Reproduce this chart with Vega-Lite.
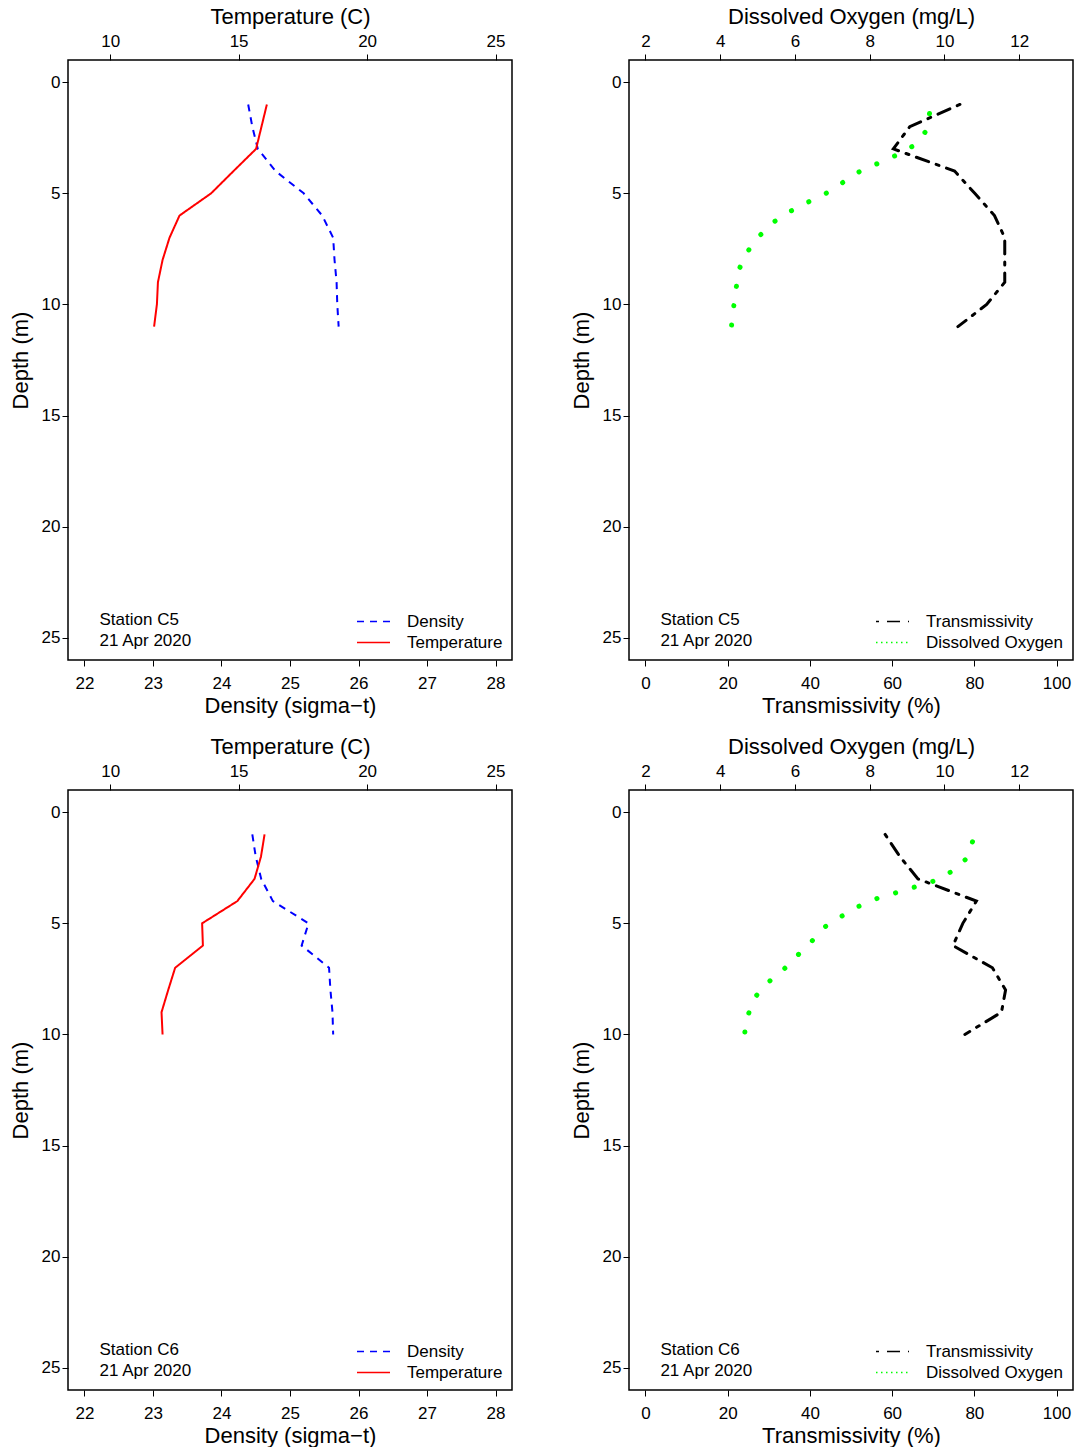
{
  "$schema": "https://vega.github.io/schema/vega-lite/v6.json",
  "padding": {"left": 8, "top": 4, "right": 0, "bottom": 0},
  "background": "white",
  "config": {
    "font": "Liberation Sans",
    "view": {"stroke": "black", "strokeWidth": 1.5},
    "axis": {"labelFont": "Liberation Sans", "titleFont": "Liberation Sans", "labelFontSize": 17, "titleFontSize": 22, "titleFontWeight": "normal", "labelColor": "black", "titleColor": "black", "tickColor": "black", "tickSize": 6, "tickWidth": 1, "domain": false, "grid": false, "labelPadding": 4, "titlePadding": 4},
    "axisBottom": {"labelPadding": 9},
    "legend": {"symbolType": "M-3,0H3", "symbolSize": 121, "symbolStrokeWidth": 1.5, "labelFont": "Liberation Sans", "labelFontSize": 17, "labelColor": "black", "labelOffset": 25, "rowPadding": 3, "offset": 9, "padding": 0, "orient": "bottom-right", "labelLimit": 300}
  },
  "datasets": {
    "prof": [
      {"st": "C5", "var": "Temperature", "depth": 1, "value": 16.10},
      {"st": "C5", "var": "Temperature", "depth": 2, "value": 15.89},
      {"st": "C5", "var": "Temperature", "depth": 3, "value": 15.68},
      {"st": "C5", "var": "Temperature", "depth": 4, "value": 14.80},
      {"st": "C5", "var": "Temperature", "depth": 5, "value": 13.93},
      {"st": "C5", "var": "Temperature", "depth": 6, "value": 12.70},
      {"st": "C5", "var": "Temperature", "depth": 7, "value": 12.31},
      {"st": "C5", "var": "Temperature", "depth": 8, "value": 12.04},
      {"st": "C5", "var": "Temperature", "depth": 9, "value": 11.86},
      {"st": "C5", "var": "Temperature", "depth": 10, "value": 11.82},
      {"st": "C5", "var": "Temperature", "depth": 11, "value": 11.71},
      {"st": "C5", "var": "Density", "depth": 1, "value": 24.39},
      {"st": "C5", "var": "Density", "depth": 2, "value": 24.45},
      {"st": "C5", "var": "Density", "depth": 3, "value": 24.53},
      {"st": "C5", "var": "Density", "depth": 4, "value": 24.79},
      {"st": "C5", "var": "Density", "depth": 5, "value": 25.20},
      {"st": "C5", "var": "Density", "depth": 6, "value": 25.47},
      {"st": "C5", "var": "Density", "depth": 7, "value": 25.63},
      {"st": "C5", "var": "Density", "depth": 8, "value": 25.65},
      {"st": "C5", "var": "Density", "depth": 9, "value": 25.68},
      {"st": "C5", "var": "Density", "depth": 10, "value": 25.69},
      {"st": "C5", "var": "Density", "depth": 11, "value": 25.71},
      {"st": "C5", "var": "Transmissivity", "depth": 1, "value": 76.5},
      {"st": "C5", "var": "Transmissivity", "depth": 2, "value": 64.3},
      {"st": "C5", "var": "Transmissivity", "depth": 3, "value": 60.3},
      {"st": "C5", "var": "Transmissivity", "depth": 4, "value": 75.2},
      {"st": "C5", "var": "Transmissivity", "depth": 5, "value": 80.1},
      {"st": "C5", "var": "Transmissivity", "depth": 6, "value": 84.9},
      {"st": "C5", "var": "Transmissivity", "depth": 7, "value": 87.4},
      {"st": "C5", "var": "Transmissivity", "depth": 8, "value": 87.4},
      {"st": "C5", "var": "Transmissivity", "depth": 9, "value": 87.4},
      {"st": "C5", "var": "Transmissivity", "depth": 10, "value": 83.0},
      {"st": "C5", "var": "Transmissivity", "depth": 11, "value": 76.0},
      {"st": "C5", "var": "Dissolved Oxygen", "depth": 1.41, "value": 9.60},
      {"st": "C5", "var": "Dissolved Oxygen", "depth": 2.22, "value": 9.50},
      {"st": "C5", "var": "Dissolved Oxygen", "depth": 2.88, "value": 9.15},
      {"st": "C5", "var": "Dissolved Oxygen", "depth": 3.30, "value": 8.69},
      {"st": "C5", "var": "Dissolved Oxygen", "depth": 3.66, "value": 8.21},
      {"st": "C5", "var": "Dissolved Oxygen", "depth": 4.02, "value": 7.73},
      {"st": "C5", "var": "Dissolved Oxygen", "depth": 4.50, "value": 7.29},
      {"st": "C5", "var": "Dissolved Oxygen", "depth": 4.99, "value": 6.84},
      {"st": "C5", "var": "Dissolved Oxygen", "depth": 5.38, "value": 6.37},
      {"st": "C5", "var": "Dissolved Oxygen", "depth": 5.79, "value": 5.90},
      {"st": "C5", "var": "Dissolved Oxygen", "depth": 6.27, "value": 5.45},
      {"st": "C5", "var": "Dissolved Oxygen", "depth": 6.88, "value": 5.07},
      {"st": "C5", "var": "Dissolved Oxygen", "depth": 7.58, "value": 4.75},
      {"st": "C5", "var": "Dissolved Oxygen", "depth": 8.36, "value": 4.52},
      {"st": "C5", "var": "Dissolved Oxygen", "depth": 9.23, "value": 4.43},
      {"st": "C5", "var": "Dissolved Oxygen", "depth": 10.12, "value": 4.36},
      {"st": "C5", "var": "Dissolved Oxygen", "depth": 11.0, "value": 4.30},
      {"st": "C6", "var": "Temperature", "depth": 1, "value": 16.01},
      {"st": "C6", "var": "Temperature", "depth": 2, "value": 15.87},
      {"st": "C6", "var": "Temperature", "depth": 3, "value": 15.62},
      {"st": "C6", "var": "Temperature", "depth": 4, "value": 14.95},
      {"st": "C6", "var": "Temperature", "depth": 5, "value": 13.58},
      {"st": "C6", "var": "Temperature", "depth": 6, "value": 13.61},
      {"st": "C6", "var": "Temperature", "depth": 7, "value": 12.53},
      {"st": "C6", "var": "Temperature", "depth": 8, "value": 12.26},
      {"st": "C6", "var": "Temperature", "depth": 9, "value": 12.00},
      {"st": "C6", "var": "Temperature", "depth": 10, "value": 12.04},
      {"st": "C6", "var": "Density", "depth": 1, "value": 24.45},
      {"st": "C6", "var": "Density", "depth": 2, "value": 24.50},
      {"st": "C6", "var": "Density", "depth": 3, "value": 24.58},
      {"st": "C6", "var": "Density", "depth": 4, "value": 24.75},
      {"st": "C6", "var": "Density", "depth": 5, "value": 25.27},
      {"st": "C6", "var": "Density", "depth": 6, "value": 25.17},
      {"st": "C6", "var": "Density", "depth": 7, "value": 25.57},
      {"st": "C6", "var": "Density", "depth": 8, "value": 25.59},
      {"st": "C6", "var": "Density", "depth": 9, "value": 25.62},
      {"st": "C6", "var": "Density", "depth": 10, "value": 25.63},
      {"st": "C6", "var": "Transmissivity", "depth": 1, "value": 58.3},
      {"st": "C6", "var": "Transmissivity", "depth": 2, "value": 61.9},
      {"st": "C6", "var": "Transmissivity", "depth": 3, "value": 66.3},
      {"st": "C6", "var": "Transmissivity", "depth": 4, "value": 80.5},
      {"st": "C6", "var": "Transmissivity", "depth": 5, "value": 77.2},
      {"st": "C6", "var": "Transmissivity", "depth": 6, "value": 74.8},
      {"st": "C6", "var": "Transmissivity", "depth": 7, "value": 84.4},
      {"st": "C6", "var": "Transmissivity", "depth": 8, "value": 87.6},
      {"st": "C6", "var": "Transmissivity", "depth": 9, "value": 86.6},
      {"st": "C6", "var": "Transmissivity", "depth": 10, "value": 77.7},
      {"st": "C6", "var": "Dissolved Oxygen", "depth": 1.33, "value": 10.75},
      {"st": "C6", "var": "Dissolved Oxygen", "depth": 2.13, "value": 10.56},
      {"st": "C6", "var": "Dissolved Oxygen", "depth": 2.70, "value": 10.16},
      {"st": "C6", "var": "Dissolved Oxygen", "depth": 3.10, "value": 9.71},
      {"st": "C6", "var": "Dissolved Oxygen", "depth": 3.37, "value": 9.20},
      {"st": "C6", "var": "Dissolved Oxygen", "depth": 3.63, "value": 8.69},
      {"st": "C6", "var": "Dissolved Oxygen", "depth": 3.88, "value": 8.20},
      {"st": "C6", "var": "Dissolved Oxygen", "depth": 4.24, "value": 7.70},
      {"st": "C6", "var": "Dissolved Oxygen", "depth": 4.68, "value": 7.25},
      {"st": "C6", "var": "Dissolved Oxygen", "depth": 5.16, "value": 6.80},
      {"st": "C6", "var": "Dissolved Oxygen", "depth": 5.81, "value": 6.45},
      {"st": "C6", "var": "Dissolved Oxygen", "depth": 6.44, "value": 6.07},
      {"st": "C6", "var": "Dissolved Oxygen", "depth": 7.07, "value": 5.70},
      {"st": "C6", "var": "Dissolved Oxygen", "depth": 7.63, "value": 5.30},
      {"st": "C6", "var": "Dissolved Oxygen", "depth": 8.29, "value": 4.95},
      {"st": "C6", "var": "Dissolved Oxygen", "depth": 9.10, "value": 4.75},
      {"st": "C6", "var": "Dissolved Oxygen", "depth": 9.98, "value": 4.65}
    ]
  },
  "columns": 2,
  "spacing": {"row": 17, "column": 56},
  "resolve": {"scale": {"color": "independent", "strokeDash": "independent", "x": "independent", "y": "independent"}, "legend": {"color": "independent", "strokeDash": "independent"}},
  "concat": [
    {
      "width": 444, "height": 600,
      "data": {"name": "prof"},
      "layer": [
        {
          "layer": [
            {
              "transform": [{"filter": "datum.st == 'C5' && datum.var == 'Density'"}],
              "mark": {"type": "line", "strokeWidth": 2, "strokeCap": "butt"},
              "encoding": {
                "x": {"field": "value", "type": "quantitative", "scale": {"domain": [21.76, 28.24], "nice": false, "zero": false}, "axis": {"orient": "bottom", "title": "Density (sigma−t)", "values": [22, 23, 24, 25, 26, 27, 28], "format": "d"}},
                "y": {"field": "depth", "type": "quantitative", "scale": {"domain": [-1, 26], "reverse": true, "nice": false, "zero": false}, "axis": {"title": "Depth (m)", "values": [0, 5, 10, 15, 20, 25], "labelPadding": 2, "titlePadding": 9}},
                "order": {"field": "depth", "type": "quantitative"},
                "color": {"field": "var", "type": "nominal", "scale": {"domain": ["Density", "Temperature"], "range": ["#0000ff", "#ff0000"]}, "legend": {"title": null}},
                "strokeDash": {"field": "var", "type": "nominal", "scale": {"domain": ["Density", "Temperature"], "range": [[7, 6], [1, 0]]}, "legend": {"title": null}}
              }
            },
            {
              "data": {"values": [{"label": ["Station C5", "21 Apr 2020"]}]},
              "mark": {"type": "text", "align": "left", "baseline": "middle", "fontSize": 17, "lineHeight": 21, "color": "black"},
              "encoding": {
                "x": {"datum": 22.22},
                "y": {"datum": 24.2},
                "text": {"field": "label"}
              }
            }
          ]
        },
        {
          "transform": [{"filter": "datum.st == 'C5' && datum.var == 'Temperature'"}],
          "mark": {"type": "line", "strokeWidth": 2},
          "encoding": {
            "x": {"field": "value", "type": "quantitative", "scale": {"domain": [8.36, 25.64], "nice": false, "zero": false}, "axis": {"orient": "top", "title": "Temperature (C)", "values": [10, 15, 20, 25]}},
            "y": {"field": "depth", "type": "quantitative"},
            "order": {"field": "depth", "type": "quantitative"},
            "color": {"field": "var", "type": "nominal"},
            "strokeDash": {"field": "var", "type": "nominal"}
          }
        }
      ],
      "resolve": {"scale": {"x": "independent"}}
    },
    {
      "width": 444, "height": 600,
      "data": {"name": "prof"},
      "layer": [
        {
          "layer": [
            {
              "transform": [{"filter": "datum.st == 'C5' && datum.var == 'Transmissivity'"}],
              "mark": {"type": "line", "strokeWidth": 3, "strokeCap": "round"},
              "encoding": {
                "x": {"field": "value", "type": "quantitative", "scale": {"domain": [-4, 104], "nice": false, "zero": false}, "axis": {"orient": "bottom", "title": "Transmissivity (%)", "values": [0, 20, 40, 60, 80, 100]}},
                "y": {"field": "depth", "type": "quantitative", "scale": {"domain": [-1, 26], "reverse": true, "nice": false, "zero": false}, "axis": {"title": "Depth (m)", "values": [0, 5, 10, 15, 20, 25], "labelPadding": 2, "titlePadding": 9}},
                "order": {"field": "depth", "type": "quantitative"},
                "color": {"field": "var", "type": "nominal", "scale": {"domain": ["Transmissivity", "Dissolved Oxygen"], "range": ["#000000", "#00ff00"]}, "legend": {"title": null}},
                "strokeDash": {"field": "var", "type": "nominal", "scale": {"domain": ["Transmissivity", "Dissolved Oxygen"], "range": [[3, 8, 13, 8], [1.5, 3.5]]}, "legend": {"title": null}}
              }
            },
            {
              "data": {"values": [{"label": ["Station C5", "21 Apr 2020"]}]},
              "mark": {"type": "text", "align": "left", "baseline": "middle", "fontSize": 17, "lineHeight": 21, "color": "black"},
              "encoding": {
                "x": {"datum": 3.64},
                "y": {"datum": 24.2},
                "text": {"field": "label"}
              }
            }
          ]
        },
        {
          "transform": [{"filter": "datum.st == 'C5' && datum.var == 'Dissolved Oxygen'"}],
          "mark": {"type": "line", "strokeWidth": 5, "strokeCap": "round", "strokeDash": [0.1, 19.4]},
          "encoding": {
            "x": {"field": "value", "type": "quantitative", "scale": {"domain": [1.56, 13.44], "nice": false, "zero": false}, "axis": {"orient": "top", "title": "Dissolved Oxygen (mg/L)", "values": [2, 4, 6, 8, 10, 12]}},
            "y": {"field": "depth", "type": "quantitative"},
            "order": {"field": "depth", "type": "quantitative"},
            "color": {"field": "var", "type": "nominal"}
          }
        }
      ],
      "resolve": {"scale": {"x": "independent"}}
    },
    {
      "width": 444, "height": 600,
      "data": {"name": "prof"},
      "layer": [
        {
          "layer": [
            {
              "transform": [{"filter": "datum.st == 'C6' && datum.var == 'Density'"}],
              "mark": {"type": "line", "strokeWidth": 2, "strokeCap": "butt"},
              "encoding": {
                "x": {"field": "value", "type": "quantitative", "scale": {"domain": [21.76, 28.24], "nice": false, "zero": false}, "axis": {"orient": "bottom", "title": "Density (sigma−t)", "values": [22, 23, 24, 25, 26, 27, 28], "format": "d"}},
                "y": {"field": "depth", "type": "quantitative", "scale": {"domain": [-1, 26], "reverse": true, "nice": false, "zero": false}, "axis": {"title": "Depth (m)", "values": [0, 5, 10, 15, 20, 25], "labelPadding": 2, "titlePadding": 9}},
                "order": {"field": "depth", "type": "quantitative"},
                "color": {"field": "var", "type": "nominal", "scale": {"domain": ["Density", "Temperature"], "range": ["#0000ff", "#ff0000"]}, "legend": {"title": null}},
                "strokeDash": {"field": "var", "type": "nominal", "scale": {"domain": ["Density", "Temperature"], "range": [[7, 6], [1, 0]]}, "legend": {"title": null}}
              }
            },
            {
              "data": {"values": [{"label": ["Station C6", "21 Apr 2020"]}]},
              "mark": {"type": "text", "align": "left", "baseline": "middle", "fontSize": 17, "lineHeight": 21, "color": "black"},
              "encoding": {
                "x": {"datum": 22.22},
                "y": {"datum": 24.2},
                "text": {"field": "label"}
              }
            }
          ]
        },
        {
          "transform": [{"filter": "datum.st == 'C6' && datum.var == 'Temperature'"}],
          "mark": {"type": "line", "strokeWidth": 2},
          "encoding": {
            "x": {"field": "value", "type": "quantitative", "scale": {"domain": [8.36, 25.64], "nice": false, "zero": false}, "axis": {"orient": "top", "title": "Temperature (C)", "values": [10, 15, 20, 25]}},
            "y": {"field": "depth", "type": "quantitative"},
            "order": {"field": "depth", "type": "quantitative"},
            "color": {"field": "var", "type": "nominal"},
            "strokeDash": {"field": "var", "type": "nominal"}
          }
        }
      ],
      "resolve": {"scale": {"x": "independent"}}
    },
    {
      "width": 444, "height": 600,
      "data": {"name": "prof"},
      "layer": [
        {
          "layer": [
            {
              "transform": [{"filter": "datum.st == 'C6' && datum.var == 'Transmissivity'"}],
              "mark": {"type": "line", "strokeWidth": 3, "strokeCap": "round"},
              "encoding": {
                "x": {"field": "value", "type": "quantitative", "scale": {"domain": [-4, 104], "nice": false, "zero": false}, "axis": {"orient": "bottom", "title": "Transmissivity (%)", "values": [0, 20, 40, 60, 80, 100]}},
                "y": {"field": "depth", "type": "quantitative", "scale": {"domain": [-1, 26], "reverse": true, "nice": false, "zero": false}, "axis": {"title": "Depth (m)", "values": [0, 5, 10, 15, 20, 25], "labelPadding": 2, "titlePadding": 9}},
                "order": {"field": "depth", "type": "quantitative"},
                "color": {"field": "var", "type": "nominal", "scale": {"domain": ["Transmissivity", "Dissolved Oxygen"], "range": ["#000000", "#00ff00"]}, "legend": {"title": null}},
                "strokeDash": {"field": "var", "type": "nominal", "scale": {"domain": ["Transmissivity", "Dissolved Oxygen"], "range": [[3, 8, 13, 8], [1.5, 3.5]]}, "legend": {"title": null}}
              }
            },
            {
              "data": {"values": [{"label": ["Station C6", "21 Apr 2020"]}]},
              "mark": {"type": "text", "align": "left", "baseline": "middle", "fontSize": 17, "lineHeight": 21, "color": "black"},
              "encoding": {
                "x": {"datum": 3.64},
                "y": {"datum": 24.2},
                "text": {"field": "label"}
              }
            }
          ]
        },
        {
          "transform": [{"filter": "datum.st == 'C6' && datum.var == 'Dissolved Oxygen'"}],
          "mark": {"type": "line", "strokeWidth": 5, "strokeCap": "round", "strokeDash": [0.1, 19.4]},
          "encoding": {
            "x": {"field": "value", "type": "quantitative", "scale": {"domain": [1.56, 13.44], "nice": false, "zero": false}, "axis": {"orient": "top", "title": "Dissolved Oxygen (mg/L)", "values": [2, 4, 6, 8, 10, 12]}},
            "y": {"field": "depth", "type": "quantitative"},
            "order": {"field": "depth", "type": "quantitative"},
            "color": {"field": "var", "type": "nominal"}
          }
        }
      ],
      "resolve": {"scale": {"x": "independent"}}
    }
  ]
}
